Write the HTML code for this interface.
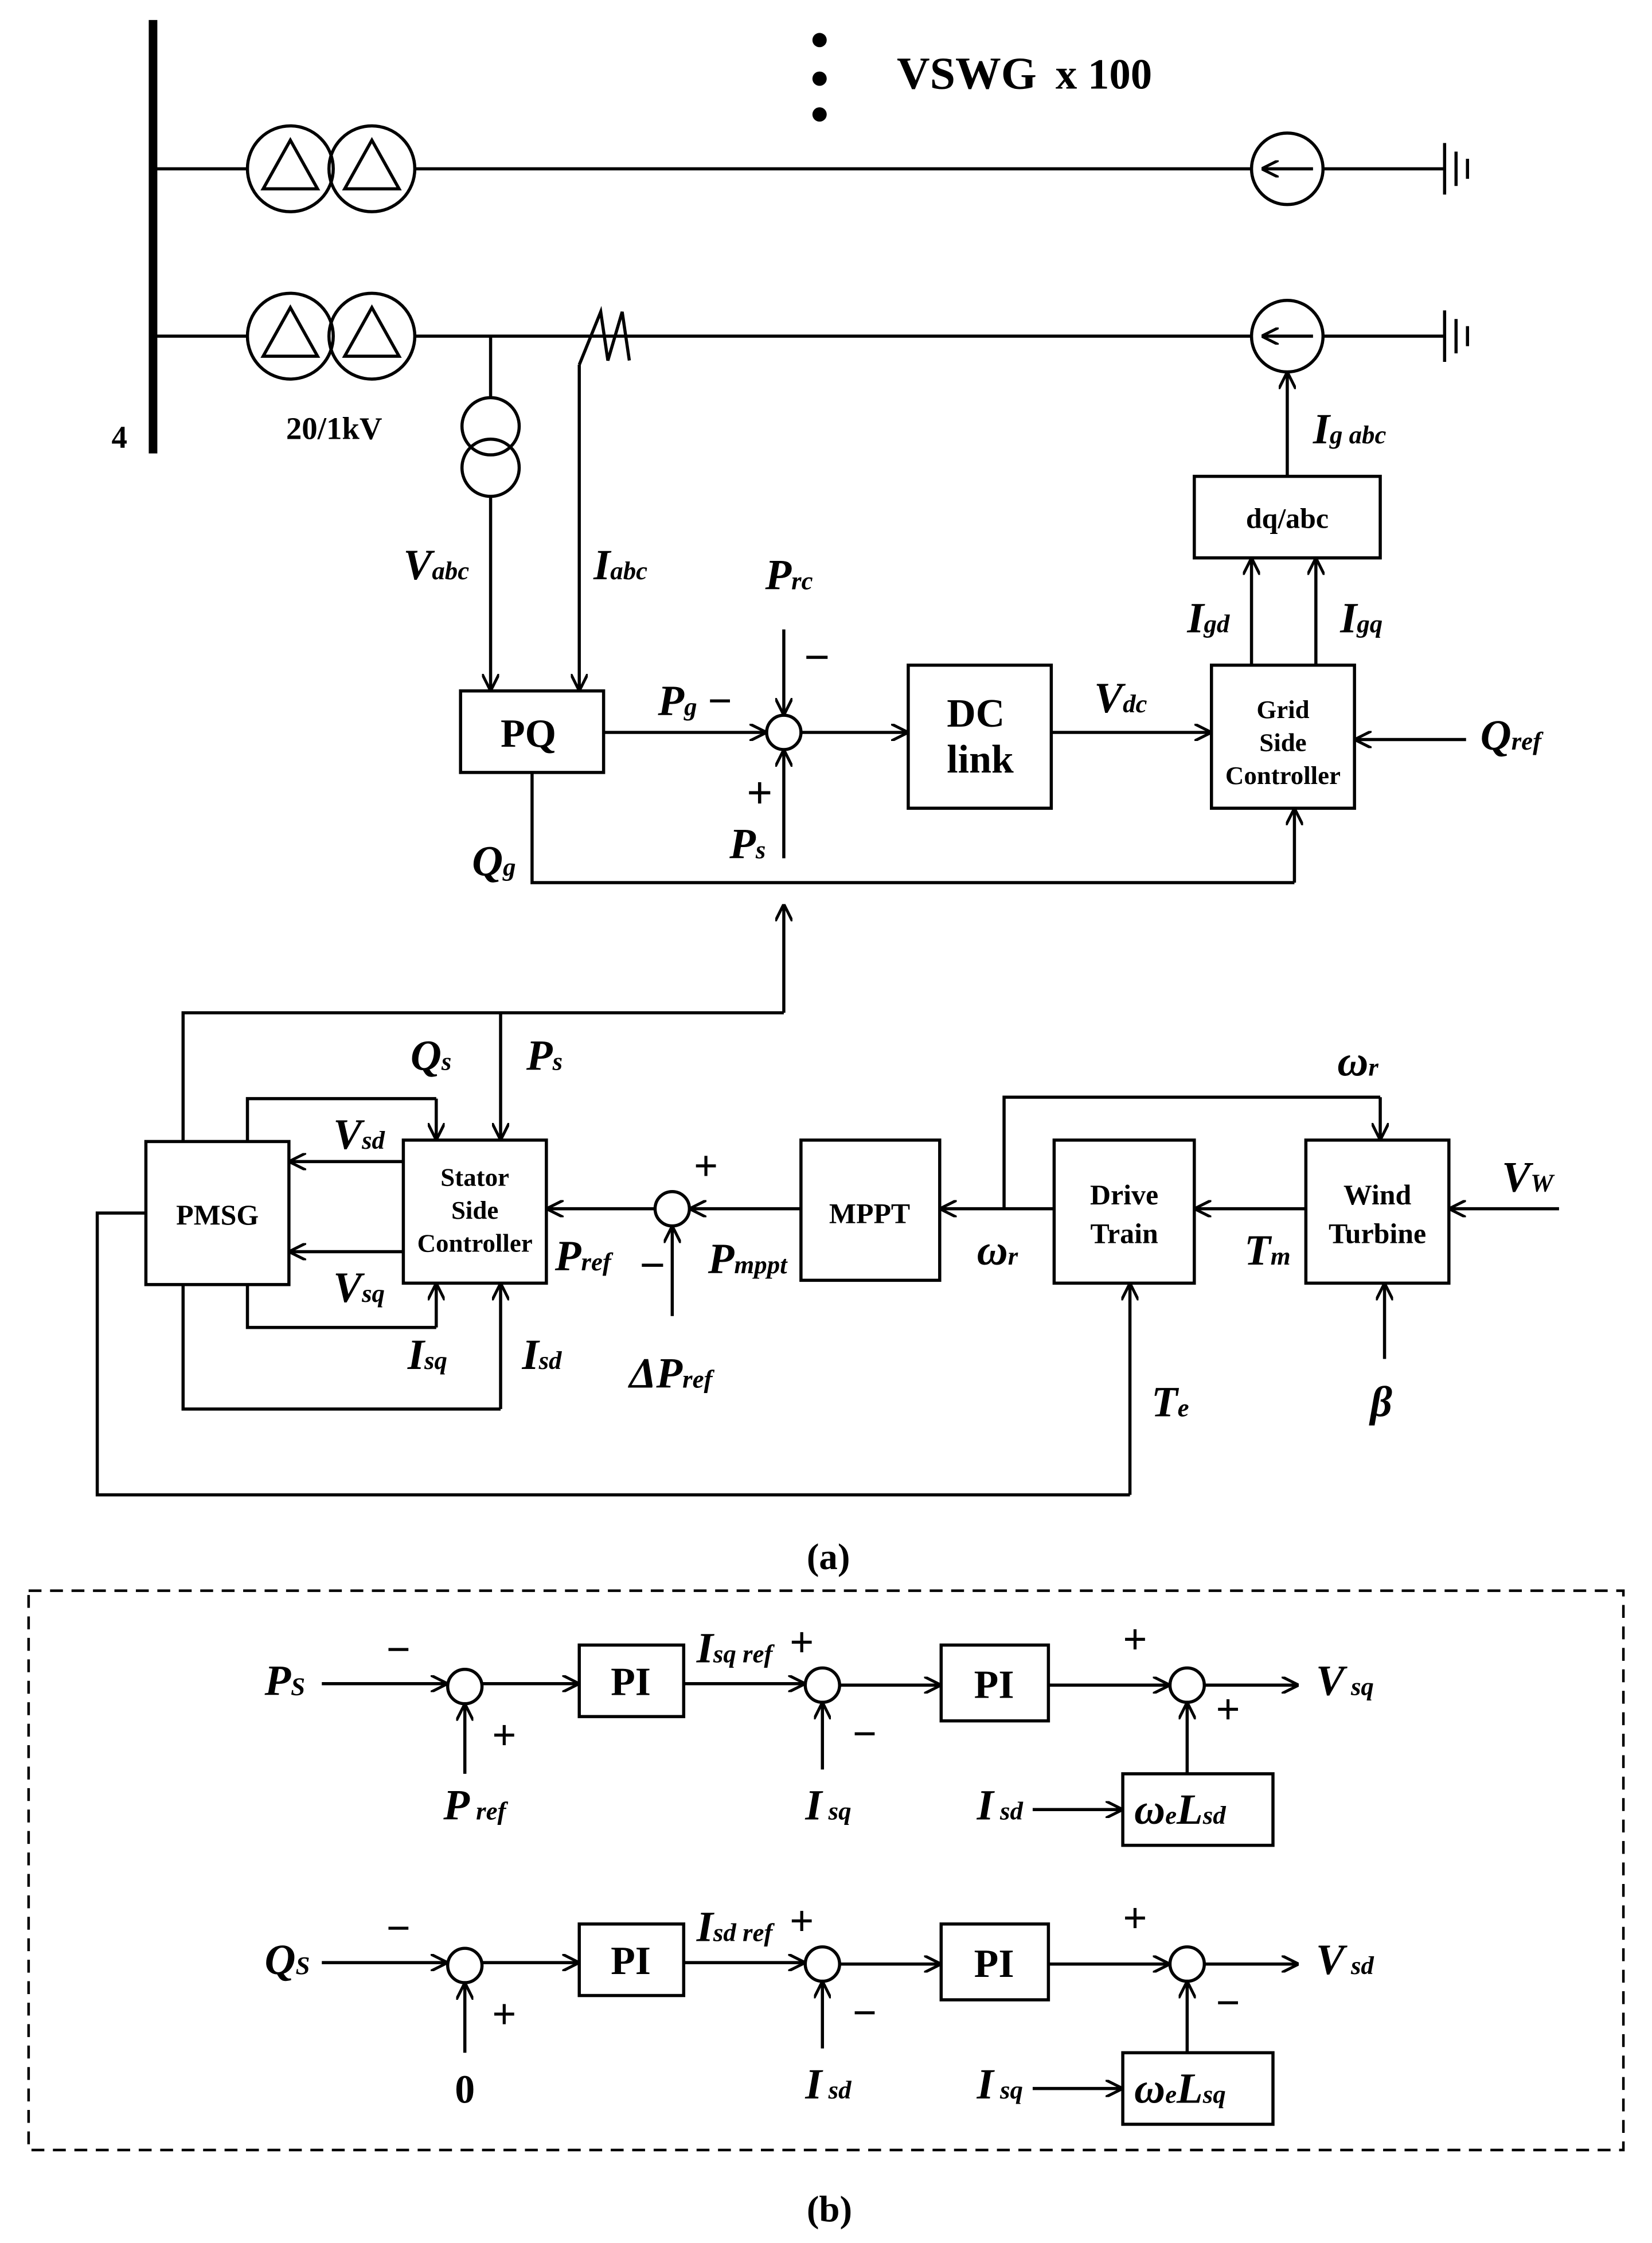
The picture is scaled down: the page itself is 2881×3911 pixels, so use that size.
<!DOCTYPE html>
<html><head><meta charset="utf-8"><style>
html,body{margin:0;padding:0;background:#fff;}
svg{display:block;}
text{font-family:"Liberation Serif",serif;font-weight:bold;fill:#000;}
.l{font-style:italic;font-size:30px;}
.s{font-size:18px;}
.b{font-size:28px;}
.bs{font-size:20px;}
</style></head><body>
<svg width="2881" height="3911" viewBox="0 0 1155 1568" preserveAspectRatio="none" xmlns="http://www.w3.org/2000/svg">
<defs><marker id="a" viewBox="0 0 12 12" refX="12" refY="6" markerWidth="12" markerHeight="12" markerUnits="userSpaceOnUse" orient="auto"><path d="M0,0 L12,6 L0,12" fill="none" stroke="#000" stroke-width="2"/></marker></defs>
<g stroke="#000" stroke-width="2.2" fill="none">
<line x1="107" y1="14" x2="107" y2="317" stroke-width="6"/>
<!-- line 1 -->
<line x1="107" y1="118" x2="173" y2="118"/>
<circle cx="203" cy="118" r="30"/><circle cx="260" cy="118" r="30"/>
<path d="M203,98 L184,132 L222,132 Z"/><path d="M260,98 L241,132 L279,132 Z"/>
<line x1="290" y1="118" x2="875" y2="118"/>
<circle cx="900" cy="118" r="25"/><line x1="918" y1="118" x2="882" y2="118" marker-end="url(#a)"/>
<line x1="925" y1="118" x2="1010" y2="118"/>
<line x1="1010" y1="100" x2="1010" y2="136"/><line x1="1018" y1="106" x2="1018" y2="130"/><line x1="1026" y1="111" x2="1026" y2="125"/>
<!-- line 2 -->
<line x1="107" y1="235" x2="173" y2="235"/>
<circle cx="203" cy="235" r="30"/><circle cx="260" cy="235" r="30"/>
<path d="M203,215 L184,249 L222,249 Z"/><path d="M260,215 L241,249 L279,249 Z"/>
<line x1="290" y1="235" x2="875" y2="235"/>
<circle cx="900" cy="235" r="25"/><line x1="918" y1="235" x2="882" y2="235" marker-end="url(#a)"/>
<line x1="925" y1="235" x2="1010" y2="235"/>
<line x1="1010" y1="217" x2="1010" y2="253"/><line x1="1018" y1="223" x2="1018" y2="247"/><line x1="1026" y1="228" x2="1026" y2="242"/>
<path d="M405,255 L420,218 L425,252 L435,218 L440,252" />
<!-- PT -->
<line x1="343" y1="235" x2="343" y2="278"/>
<circle cx="343" cy="298" r="20"/><circle cx="343" cy="327" r="20"/>
<line x1="343" y1="347" x2="343" y2="483" marker-end="url(#a)"/>
<line x1="405" y1="255" x2="405" y2="483" marker-end="url(#a)"/>
<rect x="322" y="483" width="100" height="57"/>
<line x1="422" y1="512" x2="536" y2="512" marker-end="url(#a)"/>
<circle cx="548" cy="512" r="12"/>
<line x1="548" y1="440" x2="548" y2="500" marker-end="url(#a)"/>
<line x1="548" y1="600" x2="548" y2="524" marker-end="url(#a)"/>
<line x1="560" y1="512" x2="635" y2="512" marker-end="url(#a)"/>
<rect x="635" y="465" width="100" height="100"/>
<line x1="735" y1="512" x2="847" y2="512" marker-end="url(#a)"/>
<rect x="847" y="465" width="100" height="100"/>
<line x1="1025" y1="517" x2="947" y2="517" marker-end="url(#a)"/>
<line x1="875" y1="465" x2="875" y2="390" marker-end="url(#a)"/>
<line x1="920" y1="465" x2="920" y2="390" marker-end="url(#a)"/>
<rect x="835" y="333" width="130" height="57"/>
<line x1="900" y1="333" x2="900" y2="260" marker-end="url(#a)"/>
<polyline points="372,540 372,617 905,617"/>
<line x1="905" y1="617" x2="905" y2="565" marker-end="url(#a)"/>
<!-- lower -->
<polyline points="128,798 128,708 548,708"/>
<line x1="548" y1="708" x2="548" y2="632" marker-end="url(#a)"/>
<line x1="350" y1="708" x2="350" y2="797" marker-end="url(#a)"/>
<rect x="102" y="798" width="100" height="100"/>
<rect x="282" y="797" width="100" height="100"/>
<polyline points="173,798 173,768 305,768"/>
<line x1="305" y1="768" x2="305" y2="797" marker-end="url(#a)"/>
<line x1="282" y1="812" x2="202" y2="812" marker-end="url(#a)"/>
<line x1="282" y1="875" x2="202" y2="875" marker-end="url(#a)"/>
<polyline points="173,898 173,928 305,928"/>
<line x1="305" y1="928" x2="305" y2="897" marker-end="url(#a)"/>
<polyline points="128,898 128,985 350,985"/>
<line x1="350" y1="985" x2="350" y2="897" marker-end="url(#a)"/>
<polyline points="102,848 68,848 68,1045 790,1045"/>
<line x1="790" y1="1045" x2="790" y2="897" marker-end="url(#a)"/>
<circle cx="470" cy="845" r="12"/>
<line x1="458" y1="845" x2="382" y2="845" marker-end="url(#a)"/>
<line x1="560" y1="845" x2="482" y2="845" marker-end="url(#a)"/>
<line x1="470" y1="920" x2="470" y2="857" marker-end="url(#a)"/>
<rect x="560" y="797" width="97" height="98"/>
<rect x="737" y="797" width="98" height="100"/>
<line x1="737" y1="845" x2="657" y2="845" marker-end="url(#a)"/>
<polyline points="702,845 702,767 965,767"/>
<line x1="965" y1="767" x2="965" y2="797" marker-end="url(#a)"/>
<rect x="913" y="797" width="100" height="100"/>
<line x1="913" y1="845" x2="835" y2="845" marker-end="url(#a)"/>
<line x1="1090" y1="845" x2="1013" y2="845" marker-end="url(#a)"/>
<line x1="968" y1="950" x2="968" y2="897" marker-end="url(#a)"/>
<!-- (b) -->
<rect x="20" y="1112" width="1115" height="391" stroke-dasharray="9,6" stroke-width="1.8"/>
<g id="row">
<line x1="225" y1="1177" x2="313" y2="1177" marker-end="url(#a)"/>
<circle cx="325" cy="1179" r="12"/>
<line x1="325" y1="1240" x2="325" y2="1191" marker-end="url(#a)"/>
<line x1="337" y1="1177" x2="405" y2="1177" marker-end="url(#a)"/>
<rect x="405" y="1150" width="73" height="50"/>
<line x1="478" y1="1177" x2="563" y2="1177" marker-end="url(#a)"/>
<circle cx="575" cy="1178" r="12"/>
<line x1="575" y1="1237" x2="575" y2="1190" marker-end="url(#a)"/>
<line x1="587" y1="1178" x2="658" y2="1178" marker-end="url(#a)"/>
<rect x="658" y="1150" width="75" height="53"/>
<line x1="733" y1="1178" x2="818" y2="1178" marker-end="url(#a)"/>
<circle cx="830" cy="1178" r="12"/>
<line x1="842" y1="1178" x2="908" y2="1178" marker-end="url(#a)"/>
<line x1="830" y1="1240" x2="830" y2="1190" marker-end="url(#a)"/>
<rect x="785" y="1240" width="105" height="50"/>
<line x1="722" y1="1265" x2="785" y2="1265" marker-end="url(#a)"/>
</g>
<use href="#row" y="195"/>
</g>
<g fill="#000"><circle cx="573" cy="28" r="5"/><circle cx="573" cy="55" r="5"/><circle cx="573" cy="80" r="5"/></g>
<text x="627" y="62" font-size="32">VSWG</text><text x="738" y="62" font-size="30">x 100</text>
<text x="78" y="313" font-size="22">4</text>
<text x="200" y="307" font-size="22">20/1kV</text>
<text x="282" y="405" class="l">V<tspan class="s">abc</tspan></text>
<text x="415" y="405" class="l">I<tspan class="s">abc</tspan></text>
<text x="350" y="522" class="b">PQ</text>
<text x="460" y="500" class="l">P<tspan class="s">g</tspan> <tspan font-style="normal">−</tspan></text>
<text x="535" y="412" class="l">P<tspan class="s">rc</tspan></text>
<text x="562" y="470" font-size="32">−</text>
<text x="522" y="565" font-size="32">+</text>
<text x="510" y="600" class="l">P<tspan class="s">s</tspan></text>
<text x="662" y="508" class="b">DC</text><text x="662" y="540" class="b">link</text>
<text x="765" y="498" class="l">V<tspan class="s">dc</tspan></text>
<text x="897" y="502" class="s" text-anchor="middle">Grid</text>
<text x="897" y="525" class="s" text-anchor="middle">Side</text>
<text x="897" y="548" class="s" text-anchor="middle">Controller</text>
<text x="1035" y="524" class="l">Q<tspan class="s">ref</tspan></text>
<text x="830" y="442" class="l">I<tspan class="s">gd</tspan></text>
<text x="937" y="442" class="l">I<tspan class="s">gq</tspan></text>
<text x="900" y="369" class="bs" text-anchor="middle" font-size="24">dq/abc</text>
<text x="918" y="310" class="l">I<tspan class="s">g abc</tspan></text>
<text x="330" y="612" class="l">Q<tspan class="s">g</tspan></text>
<text x="287" y="748" class="l">Q<tspan class="s">s</tspan></text>
<text x="368" y="748" class="l">P<tspan class="s">s</tspan></text>
<text x="152" y="856" class="bs" text-anchor="middle">PMSG</text>
<text x="332" y="829" class="s" text-anchor="middle">Stator</text>
<text x="332" y="852" class="s" text-anchor="middle">Side</text>
<text x="332" y="875" class="s" text-anchor="middle">Controller</text>
<text x="233" y="803" class="l">V<tspan class="s">sd</tspan></text>
<text x="233" y="910" class="l">V<tspan class="s">sq</tspan></text>
<text x="285" y="957" class="l">I<tspan class="s">sq</tspan></text>
<text x="365" y="957" class="l">I<tspan class="s">sd</tspan></text>
<text x="388" y="888" class="l">P<tspan class="s">ref</tspan></text>
<text x="485" y="825" font-size="30">+</text>
<text x="447" y="895" font-size="32">−</text>
<text x="495" y="890" class="l">P<tspan class="s">mppt</tspan></text>
<text x="440" y="970" class="l">ΔP<tspan class="s">ref</tspan></text>
<text x="608" y="855" class="bs" text-anchor="middle">MPPT</text>
<text x="683" y="884" class="l">ω<tspan class="s">r</tspan></text>
<text x="935" y="752" class="l">ω<tspan class="s">r</tspan></text>
<text x="786" y="842" class="bs" text-anchor="middle">Drive</text>
<text x="786" y="869" class="bs" text-anchor="middle">Train</text>
<text x="870" y="884" class="l">T<tspan class="s">m</tspan></text>
<text x="963" y="842" class="bs" text-anchor="middle">Wind</text>
<text x="963" y="869" class="bs" text-anchor="middle">Turbine</text>
<text x="1050" y="833" class="l">V<tspan class="s">W</tspan></text>
<text x="958" y="990" class="l">β</text>
<text x="805" y="990" class="l">T<tspan class="s">e</tspan></text>
<text x="564" y="1097" font-size="26" font-weight="normal">(<tspan font-weight="bold">a</tspan>)</text>
<!-- b labels -->
<text x="185" y="1185" class="l">P<tspan class="s">S</tspan></text>
<text x="270" y="1163" font-size="30">−</text><text x="344" y="1223" font-size="30">+</text>
<text x="310" y="1272" class="l">P<tspan class="s"> ref</tspan></text>
<text x="441" y="1185" class="b" text-anchor="middle">PI</text>
<text x="487" y="1162" class="l">I<tspan class="s">sq ref</tspan></text>
<text x="552" y="1158" font-size="30">+</text><text x="596" y="1222" font-size="30">−</text>
<text x="563" y="1272" class="l">I<tspan class="s"> sq</tspan></text>
<text x="695" y="1187" class="b" text-anchor="middle">PI</text>
<text x="785" y="1156" font-size="30">+</text><text x="850" y="1205" font-size="30">+</text>
<text x="920" y="1185" class="l">V<tspan class="s"> sq</tspan></text>
<text x="683" y="1272" class="l">I<tspan class="s"> sd</tspan></text>
<text x="793" y="1275" class="l">ω<tspan class="s">e</tspan>L<tspan class="s">sd</tspan></text>
<text x="185" y="1380" class="l">Q<tspan class="s">S</tspan></text>
<text x="270" y="1358" font-size="30">−</text><text x="344" y="1418" font-size="30">+</text>
<text x="318" y="1470" font-size="28">0</text>
<text x="441" y="1380" class="b" text-anchor="middle">PI</text>
<text x="487" y="1357" class="l">I<tspan class="s">sd ref</tspan></text>
<text x="552" y="1353" font-size="30">+</text><text x="596" y="1417" font-size="30">−</text>
<text x="563" y="1467" class="l">I<tspan class="s"> sd</tspan></text>
<text x="695" y="1382" class="b" text-anchor="middle">PI</text>
<text x="785" y="1351" font-size="30">+</text><text x="850" y="1410" font-size="30">−</text>
<text x="920" y="1380" class="l">V<tspan class="s"> sd</tspan></text>
<text x="683" y="1467" class="l">I<tspan class="s"> sq</tspan></text>
<text x="793" y="1470" class="l">ω<tspan class="s">e</tspan>L<tspan class="s">sq</tspan></text>
<text x="564" y="1553" font-size="26" font-weight="normal">(<tspan font-weight="bold">b</tspan>)</text>
</svg>
</body></html>
